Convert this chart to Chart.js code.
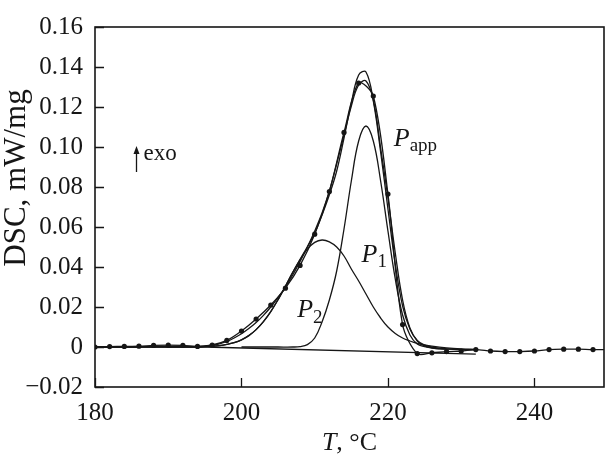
<!DOCTYPE html>
<html>
<head>
<meta charset="utf-8">
<script src="https://cdn.jsdelivr.net/npm/chart.js@4/dist/chart.umd.min.js"></script>
<style>
  html, body { margin: 0; padding: 0; background: #fff; }
  #wrap { width: 608px; height: 459px; }
</style>
</head>
<body>
<div id="wrap"><canvas id="dsc"></canvas></div>
<script>
// axis ticks
const xTicks = [180, 200, 220, 240];
const yTicks = [-0.02, 0, 0.02, 0.04, 0.06, 0.08, 0.10, 0.12, 0.14, 0.16];

// experimental curve, marked every 2 degrees
const expT = [180, 182, 184, 186, 188, 190, 192, 194, 196, 198, 200, 202, 204, 206, 208, 210, 212, 214,
  216, 218, 220, 222, 224, 226, 228, 230, 232, 234, 236, 238, 240, 242, 244, 246, 248, 250];
const expDSC = [0.0000, 0.0002, 0.0003, 0.0004, 0.0008, 0.0009, 0.0008, 0.0003, 0.0010, 0.0033, 0.0080,
  0.0140, 0.0210, 0.0294, 0.0408, 0.0564, 0.0777, 0.1073, 0.1320, 0.1255, 0.0765, 0.0112, -0.0033,
  -0.0029, -0.0023, -0.0020, -0.0013, -0.0020, -0.0023, -0.0023, -0.0020, -0.0013, -0.0011, -0.0011,
  -0.0013, -0.0013];

// fitted curves (sum of peaks and apparent peak)
const fitT = [180, 185, 190, 194, 195, 196, 197, 198, 199, 200, 201, 202, 203, 204, 205, 206, 207, 208,
  209, 210, 211, 212, 213, 214, 215, 216, 217, 218, 219, 220, 221, 222, 223, 224, 225, 226, 227, 228,
  230, 232];
const sumDSC = [0, 0, 0, 0, 0.0002, 0.0004, 0.0007, 0.0013, 0.0022, 0.0036, 0.0057, 0.0087, 0.0127,
  0.0177, 0.0237, 0.0304, 0.0373, 0.0438, 0.0501, 0.0568, 0.0660, 0.0761, 0.0880, 0.1045, 0.1220,
  0.1360, 0.1375, 0.1230, 0.0975, 0.0690, 0.0415, 0.0205, 0.0090, 0.0033, 0.0010, 0.0000, -0.0006,
  -0.0009, -0.0012, -0.0013];
const appDSC = [0, 0, 0.0003, 0.0003, 0.0005, 0.0009, 0.0016, 0.0028, 0.0045, 0.0066, 0.0092, 0.0122,
  0.0158, 0.0200, 0.0248, 0.0300, 0.0360, 0.0428, 0.0500, 0.0580, 0.0670, 0.0780, 0.0915, 0.1060,
  0.1205, 0.1310, 0.1330, 0.1235, 0.0995, 0.0745, 0.0470, 0.0235, 0.0095, 0.0030, 0.0006, -0.0004,
  -0.0009, -0.0011, -0.0013, -0.0013];

// peak P1
const p1T = [200, 205, 207, 208, 209, 210, 211, 212, 213, 214, 215, 216, 217, 218, 219, 220, 221, 222,
  223, 224, 225, 226, 228];
const p1DSC = [0, 0, 0, 0.0002, 0.0012, 0.0045, 0.0125, 0.0235, 0.0380, 0.0590, 0.0830, 0.1030, 0.1105,
  0.1030, 0.0830, 0.0580, 0.0340, 0.0160, 0.0060, 0.0015, 0.0002, -0.0005, -0.0010];

// peak P2
const p2T = [190, 194, 195, 196, 197, 198, 199, 200, 201, 202, 203, 204, 205, 206, 207, 208, 209, 210,
  211, 212, 213, 214, 215, 216, 217, 218, 219, 220, 221, 222, 223, 224, 225, 226, 228, 230, 232];
const p2DSC = [0, 0.0001, 0.0002, 0.0004, 0.0007, 0.0013, 0.0022, 0.0036, 0.0057, 0.0087, 0.0127,
  0.0177, 0.0237, 0.0304, 0.0373, 0.0436, 0.0489, 0.0523, 0.0535, 0.0526, 0.0500, 0.0455, 0.0390,
  0.0330, 0.0265, 0.0200, 0.0145, 0.0100, 0.0068, 0.0045, 0.0030, 0.0018, 0.0010, 0.0004, -0.0004,
  -0.0009, -0.0012];

// straight baseline
const baseT = [180, 195, 232];
const baseDSC = [0, 0, -0.0036];

const INK = "#161616";
const SERIF = "'Liberation Serif', 'DejaVu Serif', serif";

function toXY(xs, ys) {
  return xs.map((x, i) => ({ x: x, y: ys[i] }));
}

function curve(xs, ys, extra) {
  return Object.assign({
    data: toXY(xs, ys),
    showLine: true,
    borderColor: INK,
    borderWidth: 1.3,
    pointRadius: 0,
    tension: 0.4,
    fill: false
  }, extra || {});
}

//! frame, inward ticks, titles and labels
const decor = {
  id: "decor",
  afterDraw(chart) {
    const ctx = chart.ctx;
    const a = chart.chartArea;
    const xs = chart.scales.x;
    const ys = chart.scales.y;
    ctx.save();
    ctx.strokeStyle = INK;
    ctx.fillStyle = INK;
    ctx.lineWidth = 1.6;
    ctx.strokeRect(a.left, a.top, a.right - a.left, a.bottom - a.top);

    ctx.lineWidth = 1.3;
    ctx.beginPath();
    yTicks.forEach(v => {
      const py = Math.round(ys.getPixelForValue(v)) + 0.5;
      ctx.moveTo(a.left, py);
      ctx.lineTo(a.left + 9, py);
    });
    xTicks.forEach(v => {
      const px = Math.round(xs.getPixelForValue(v)) + 0.5;
      ctx.moveTo(px, a.bottom);
      ctx.lineTo(px, a.bottom - 9);
    });
    ctx.stroke();

    // y title
    ctx.save();
    ctx.translate(17, 178);
    ctx.rotate(-Math.PI / 2);
    ctx.font = "31px " + SERIF;
    ctx.textAlign = "center";
    ctx.textBaseline = "middle";
    ctx.fillText("DSC, mW/mg", 0, 0);
    ctx.restore();

    // x title: italic T
    ctx.textBaseline = "alphabetic";
    ctx.textAlign = "left";
    ctx.font = "italic 26px " + SERIF;
    const wT = ctx.measureText("T").width;
    ctx.font = "26px " + SERIF;
    const wRest = ctx.measureText(", °C").width;
    const cx = (a.left + a.right) / 2;
    let x0 = cx - (wT + wRest) / 2;
    ctx.font = "italic 26px " + SERIF;
    ctx.fillText("T", x0, 450);
    ctx.font = "26px " + SERIF;
    ctx.fillText(", °C", x0 + wT, 450);

    // peak labels
    const label = (main, sub, tx, ty, size, subSize, drop) => {
      const px = xs.getPixelForValue(tx);
      const py = ys.getPixelForValue(ty);
      ctx.font = "italic " + size + "px " + SERIF;
      ctx.fillText(main, px, py);
      const w = ctx.measureText(main).width;
      ctx.font = subSize + "px " + SERIF;
      ctx.fillText(sub, px + w, py + drop);
    };
    label("P", "app", 220.8, 0.1005, 26, 19, 5);
    label("P", "1", 216.4, 0.0424, 26, 19, 5);
    label("P", "2", 207.6, 0.0151, 26, 19, 6);

    // exo arrow
    const ax = Math.round(xs.getPixelForValue(185.6)) + 0.5;
    const ay0 = ys.getPixelForValue(0.0875);
    const ay1 = ys.getPixelForValue(0.1005);
    ctx.lineWidth = 1.3;
    ctx.beginPath();
    ctx.moveTo(ax, ay0);
    ctx.lineTo(ax, ay1 + 4);
    ctx.stroke();
    ctx.beginPath();
    ctx.moveTo(ax, ay1);
    ctx.lineTo(ax - 3, ay1 + 8);
    ctx.lineTo(ax + 3, ay1 + 8);
    ctx.closePath();
    ctx.fill();
    ctx.font = "23px " + SERIF;
    ctx.fillText("exo", ax + 7, ys.getPixelForValue(0.0935));
    ctx.restore();
  }
};

new Chart(document.getElementById("dsc"), {
  type: "scatter",
  data: {
    datasets: [
      curve(baseT, baseDSC, { tension: 0 }),
      curve(p2T, p2DSC),
      curve(p1T, p1DSC),
      curve(fitT, appDSC),
      curve(fitT, sumDSC),
      curve(expT, expDSC, {
        tension: 0.3,
        pointRadius: 2.6,
        pointBackgroundColor: INK,
        pointBorderWidth: 0
      })
    ]
  },
  plugins: [decor],
  options: {
    responsive: true,
    maintainAspectRatio: false,
    animation: false,
    layout: { padding: { top: 18, right: 1, left: 0, bottom: 0 } },
    plugins: { legend: { display: false }, tooltip: { enabled: false } },
    scales: {
      x: {
        type: "linear",
        min: 180,
        max: 249.5,
        afterFit: s => { s.height = 72; },
        afterBuildTicks: s => { s.ticks = xTicks.map(v => ({ value: v })); },
        grid: { display: false, drawTicks: false },
        border: { display: false },
        ticks: {
          padding: 11,
          color: INK,
          font: { family: SERIF, size: 25 },
          maxRotation: 0,
          callback: v => String(v)
        }
      },
      y: {
        type: "linear",
        min: -0.02,
        max: 0.16,
        afterFit: s => { s.width = 95; },
        afterBuildTicks: s => { s.ticks = yTicks.map(v => ({ value: v })); },
        grid: { display: false, drawTicks: false },
        border: { display: false },
        ticks: {
          padding: 12,
          color: INK,
          font: { family: SERIF, size: 25 },
          callback: v => Math.abs(v) < 1e-9 ? "0" : (v < 0 ? "\u2212" + Math.abs(v).toFixed(2) : v.toFixed(2))
        }
      }
    }
  }
});
</script>
</body>
</html>
